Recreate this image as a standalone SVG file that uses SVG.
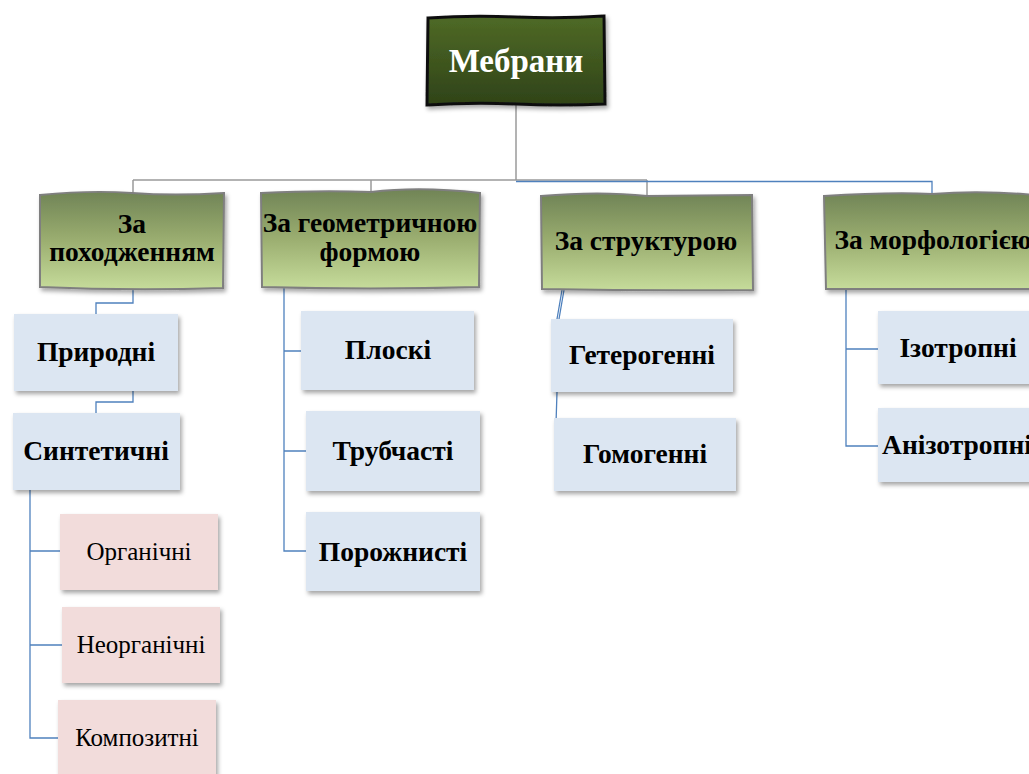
<svg xmlns="http://www.w3.org/2000/svg" width="1029" height="774" viewBox="0 0 1029 774">
<defs>
<linearGradient id="gRoot" x1="0" y1="0" x2="0" y2="1">
<stop offset="0" stop-color="#4f6a26"/>
<stop offset="1" stop-color="#2f4318"/>
</linearGradient>
<linearGradient id="gL1" x1="0" y1="0" x2="0" y2="1">
<stop offset="0" stop-color="#708456"/>
<stop offset="0.5" stop-color="#9bae70"/>
<stop offset="1" stop-color="#c6dc9b"/>
</linearGradient>
<filter id="sh" x="-10%" y="-10%" width="125%" height="130%">
<feDropShadow dx="2" dy="3" stdDeviation="2" flood-color="#000" flood-opacity="0.35"/>
</filter>
</defs>
<style>
.t{font-family:"Liberation Serif","DejaVu Serif",serif;text-anchor:middle}
.b{font-weight:bold;font-size:27.5px;fill:#000}
.n{font-size:25px;fill:#000}
.l1{fill:url(#gL1);stroke:#7f7f7f;stroke-width:2;filter:url(#sh)}
.bl{fill:#dce6f2;filter:url(#sh)}
.pk{fill:#f2dcdb;filter:url(#sh)}
.cb{fill:none;stroke:#4f81bd;stroke-width:1.3}
.cg{fill:none;stroke:#9a9a9a;stroke-width:1.5}
</style>
<g id="connectors">
<path class="cg" d="M516,105 V180 M133,180 H647 M133,180 V193 M371,180 V191 M647,180 V200"/>
<path class="cb" d="M516,181.5 H932 V194"/>
<path class="cb" d="M133,288 V303 H96 V314 M133,391 V402 H96 V413"/>
<path class="cb" d="M30,490 V738 H58 M30,551 H60 M30,645 H62"/>
<path class="cb" d="M284,288 V551 H306 M284,351 H301 M284,451 H306"/>
<path class="cb" d="M562,290 L557,319 M564,290 L559,319 M557,392 L555,455"/>
<path class="cb" d="M846,289 V446 H878 M846,349 H878"/>
</g>
<g id="root">
<path d="M428,18 Q470,15 516,17 T604,16 L605,104 Q560,106 516,104 T427,105 Z" fill="url(#gRoot)" stroke="#111" stroke-width="3" filter="url(#sh)"/>
<text class="t" x="516" y="72" font-size="33" font-weight="bold" fill="#fff">Мебрани</text>
</g>
<g id="n-origin">
<path class="l1" d="M40,195 Q90,190 132,193 T224,193 L223,288 Q130,291 40,287 Z"/>
<text class="t b" x="132" y="233">За</text>
<text class="t b" x="132" y="261">походженням</text>
</g>
<g id="n-geom">
<path class="l1" d="M261,193 Q320,190 371,192 Q420,186 480,193 L479,287 Q370,290 262,287 Z"/>
<text class="t b" x="370" y="232">За геометричною</text>
<text class="t b" x="370" y="261">формою</text>
</g>
<g id="n-struct">
<path class="l1" d="M541,196 Q600,191 647,196 L752,195 L753,290 Q650,291 542,289 Z"/>
<text class="t b" x="646" y="250">За структурою</text>
</g>
<g id="n-morph">
<path class="l1" d="M824,196 Q890,192 932,194 Q980,190 1035,195 L1035,289 L826,289 Z"/>
<text class="t b" x="933" y="249">За морфологією</text>
</g>
<g id="n-natural">
<rect class="bl" x="14" y="314" width="164" height="77"/>
<text class="t b" x="96" y="361">Природні</text>
</g>
<g id="n-synthetic">
<rect class="bl" x="13" y="413" width="167" height="77"/>
<text class="t b" x="96" y="460">Синтетичні</text>
</g>
<g id="n-organic">
<rect class="pk" x="60" y="514" width="158" height="76"/>
<text class="t n" x="139" y="560">Органічні</text>
</g>
<g id="n-inorganic">
<rect class="pk" x="62" y="607" width="158" height="76"/>
<text class="t n" x="141" y="653">Неорганічні</text>
</g>
<g id="n-composite">
<rect class="pk" x="58" y="700" width="158" height="80"/>
<text class="t n" x="137" y="746">Композитні</text>
</g>
<g id="n-flat">
<rect class="bl" x="301" y="311" width="173" height="79"/>
<text class="t b" x="388" y="359">Плоскі</text>
</g>
<g id="n-tubular">
<rect class="bl" x="306" y="411" width="174" height="80"/>
<text class="t b" x="393" y="460">Трубчасті</text>
</g>
<g id="n-hollow">
<rect class="bl" x="306" y="512" width="174" height="79"/>
<text class="t b" x="393" y="561">Порожнисті</text>
</g>
<g id="n-hetero">
<rect class="bl" x="551" y="319" width="182" height="73"/>
<text class="t b" x="642" y="364">Гетерогенні</text>
</g>
<g id="n-homo">
<rect class="bl" x="554" y="418" width="182" height="73"/>
<text class="t b" x="645" y="463">Гомогенні</text>
</g>
<g id="n-iso">
<rect class="bl" x="878" y="311" width="160" height="73"/>
<text class="t b" x="958" y="357">Ізотропні</text>
</g>
<g id="n-aniso">
<rect class="bl" x="878" y="408" width="160" height="74"/>
<text class="t b" x="957" y="454">Анізотропні</text>
</g>
</svg>
